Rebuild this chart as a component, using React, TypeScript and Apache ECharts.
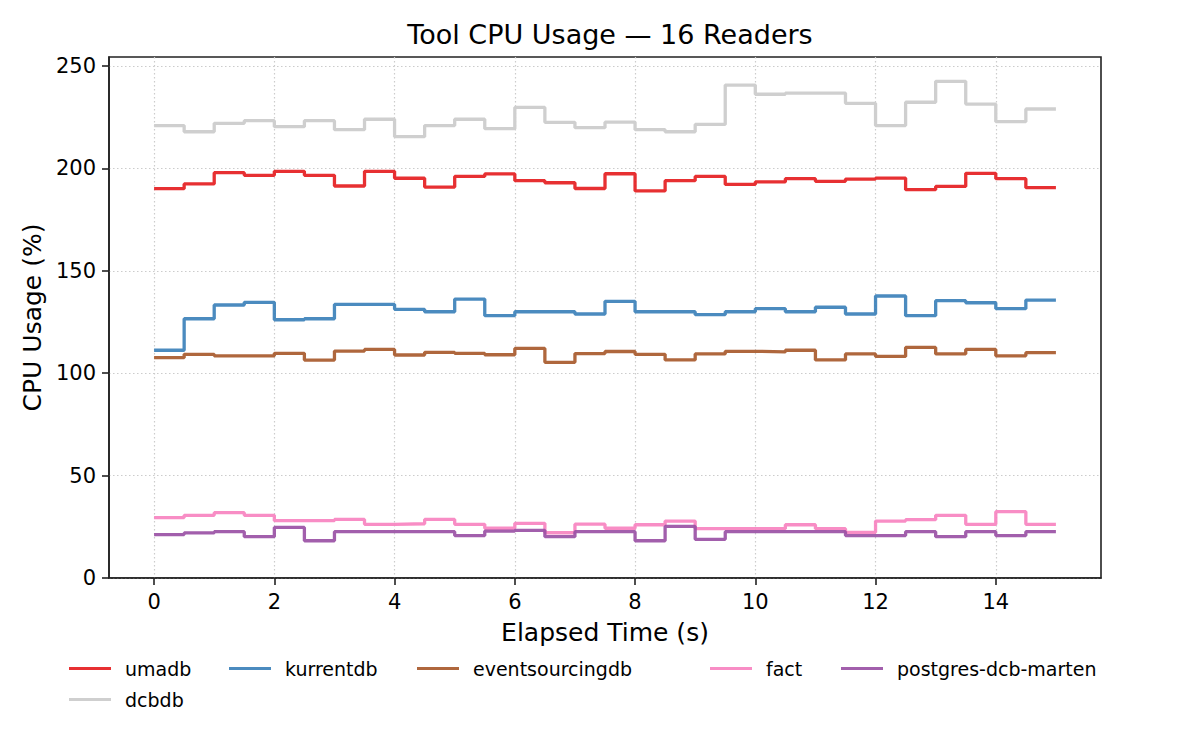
import React, { useEffect, useRef } from "react";
import * as echarts from "echarts";

const elapsed = [0, 0.5, 1, 1.5, 2, 2.5, 3, 3.5, 4, 4.5, 5, 5.5, 6, 6.5, 7, 7.5, 8, 8.5, 9, 9.5, 10, 10.5, 11, 11.5, 12, 12.5, 13, 13.5, 14, 14.5, 15];

const umadb = [190.1, 192.4, 197.9, 196.6, 198.6, 196.6, 191.4, 198.6, 195.2, 190.9, 196.1, 197.3, 194.0, 193.0, 190.2, 197.4, 189.0, 194.0, 196.1, 192.2, 193.4, 195.0, 193.7, 194.8, 195.3, 189.6, 191.2, 197.6, 195.0, 190.6, 190.6];
const kurrentdb = [111.2, 126.6, 133.3, 134.6, 126.1, 126.6, 133.6, 133.6, 131.2, 130.0, 136.2, 128.1, 130.0, 130.0, 128.9, 135.1, 130.0, 130.0, 128.6, 130.0, 131.5, 130.0, 132.2, 128.9, 137.7, 128.1, 135.4, 134.4, 131.5, 135.7, 135.7];
const eventsourcingdb = [107.6, 109.2, 108.5, 108.5, 109.7, 106.4, 110.8, 111.6, 108.9, 110.2, 109.7, 109.0, 112.1, 105.3, 109.6, 110.6, 109.2, 106.5, 109.4, 110.7, 110.4, 111.2, 106.5, 109.4, 108.2, 112.6, 109.4, 111.6, 108.5, 110.0, 110.0];
const fact = [29.5, 30.6, 31.9, 30.6, 28.0, 28.0, 28.6, 26.2, 26.5, 28.6, 26.2, 24.3, 26.7, 22.1, 26.3, 24.3, 26.0, 27.8, 24.1, 24.1, 24.1, 26.0, 24.1, 22.3, 27.8, 28.5, 30.6, 26.2, 32.4, 26.2, 26.2];
const postgresDcbMarten = [21.2, 22.0, 22.6, 20.2, 24.7, 18.2, 22.6, 22.6, 22.6, 22.6, 20.7, 22.9, 23.3, 20.2, 22.6, 22.6, 18.2, 25.2, 18.9, 22.6, 22.6, 22.6, 22.6, 20.7, 20.7, 22.6, 20.2, 22.6, 20.7, 22.6, 22.6];
const dcbdb = [220.9, 217.9, 222.0, 223.3, 220.4, 223.3, 218.9, 224.0, 215.5, 220.9, 224.0, 219.4, 229.8, 222.5, 219.9, 222.6, 218.9, 217.9, 221.5, 240.7, 236.2, 236.8, 236.8, 231.8, 220.9, 232.3, 242.5, 231.4, 222.8, 229.0, 229.0];

const seriesNames = ["umadb", "kurrentdb", "eventsourcingdb", "fact", "postgres-dcb-marten", "dcbdb"];
const seriesValues = [umadb, kurrentdb, eventsourcingdb, fact, postgresDcbMarten, dcbdb];
const seriesColors = ["#e41a1c", "#377eb8", "#a65628", "#f781bf", "#984ea3", "#cfcfcf"];

const xTicks = [0, 2, 4, 6, 8, 10, 12, 14];
const yTicks = [0, 50, 100, 150, 200, 250];

const FONT = "DejaVu Sans";

export default function App() {
  const ref = useRef<HTMLDivElement>(null);
  useEffect(() => {
    if (!ref.current) return;
    const chart = echarts.init(ref.current, undefined, { renderer: "svg" });
    const legendSlots = [
      { left: 69, top: 659 },
      { left: 229, top: 659 },
      { left: 417, top: 659 },
      { left: 710, top: 659 },
      { left: 841, top: 659 },
      { left: 69, top: 690 },
    ];
    const axisColor = "#222";
    const option: any = {
      animation: false,
      backgroundColor: "#ffffff",
      title: {
        text: "Tool CPU Usage — 16 Readers",
        left: 605,
        textAlign: "center",
        top: 16,
        textStyle: { fontFamily: FONT, fontSize: 27, fontWeight: "normal", color: "#000" },
      },
      grid: {
        left: 109,
        top: 57,
        right: 99,
        bottom: 172,
        show: true,
        borderColor: axisColor,
        borderWidth: 1.6,
        backgroundColor: "transparent",
      },
      legend: seriesNames.map((n, i) => ({
        data: [n],
        left: legendSlots[i].left,
        top: legendSlots[i].top,
        padding: 0,
        icon: "rect",
        itemWidth: 42,
        itemHeight: 3,
        selectedMode: false,
        textStyle: { fontFamily: FONT, fontSize: 19, color: "#000", padding: [0, 0, 0, 9] },
      })),
      xAxis: {
        type: "value",
        min: -0.75,
        max: 15.75,
        name: "Elapsed Time (s)",
        nameLocation: "middle",
        nameGap: 42,
        nameTextStyle: { fontFamily: FONT, fontSize: 25, color: "#000" },
        axisLine: { show: true, onZero: false, lineStyle: { color: axisColor, width: 1.6 } },
        axisTick: { show: true, length: 7, lineStyle: { color: axisColor, width: 1.6 }, customValues: xTicks },
        axisLabel: { fontFamily: FONT, fontSize: 21, color: "#000", margin: 13, customValues: xTicks },
        splitLine: { show: true, lineStyle: { color: "#cccccc", type: [1.5, 2.5], width: 1.2 } },
      },
      yAxis: {
        type: "value",
        min: 0,
        max: 254.4,
        name: "CPU Usage (%)",
        nameLocation: "middle",
        nameGap: 63,
        nameTextStyle: { fontFamily: FONT, fontSize: 25, color: "#000" },
        axisLine: { show: true, onZero: false, lineStyle: { color: axisColor, width: 1.6 } },
        axisTick: { show: true, length: 7, lineStyle: { color: axisColor, width: 1.6 }, customValues: yTicks },
        axisLabel: { fontFamily: FONT, fontSize: 21, color: "#000", margin: 13, customValues: yTicks },
        splitLine: { show: true, lineStyle: { color: "#cccccc", type: [1.5, 2.5], width: 1.2 } },
      },
      series: seriesNames.map((n, i) => ({
        name: n,
        type: "line",
        step: "end",
        showSymbol: false,
        symbol: "none",
        data: elapsed.map((x, j) => [x, seriesValues[i][j]]),
        lineStyle: { color: seriesColors[i], width: 3.3, opacity: i === 5 ? 1 : 0.9 },
        itemStyle: { color: seriesColors[i], opacity: i === 5 ? 1 : 0.9 },
        z: 2 + i,
      })),
    };
    chart.setOption(option);
    return () => chart.dispose();
  }, []);
  return (
    <div
      ref={ref}
      style={{ position: "fixed", left: 0, top: 0, width: 1200, height: 750, background: "#fff" }}
    />
  );
}
